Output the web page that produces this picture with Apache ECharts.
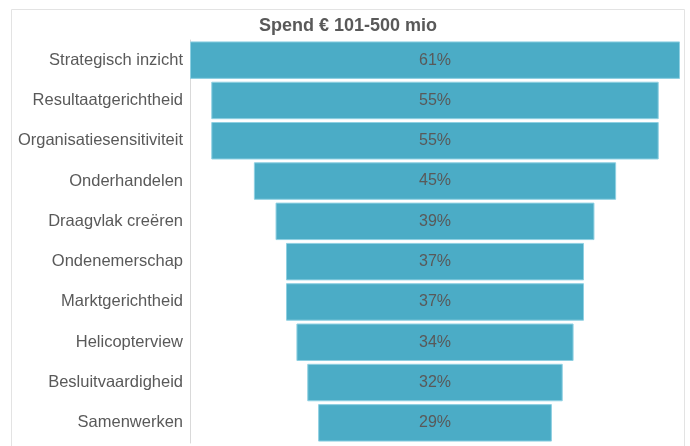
<!DOCTYPE html>
<html><head><meta charset="utf-8">
<script src="https://cdn.jsdelivr.net/npm/echarts@6/dist/echarts.min.js"></script>
<style>html,body{margin:0;padding:0;background:#fff}#c{width:690px;height:446px}</style>
</head><body><div id="c"></div>
<script>
const categories = ["Strategisch inzicht","Resultaatgerichtheid","Organisatiesensitiviteit","Onderhandelen","Draagvlak creëren","Ondenemerschap","Marktgerichtheid","Helicopterview","Besluitvaardigheid","Samenwerken"];
// bar lengths
const values = [61, 55.7, 55.7, 45.1, 39.7, 37.1, 37.1, 34.5, 31.8, 29.1];
// percentages printed on the bars
const labels = ["61%","55%","55%","45%","39%","37%","37%","34%","32%","29%"];
const title = "Spend € 101-500 mio";
const maxV = Math.max(...values);
const offsets = values.map(v => (maxV - v) / 2);
const chart = echarts.init(document.getElementById('c'), null, {renderer:'canvas'});
chart.setOption({
  animation:false,
  title:{text:title,left:254,top:12,textStyle:{fontFamily:'Liberation Sans, Arial',fontSize:18,fontWeight:'bold',color:'#595959'}},
  graphic:[{type:'rect',shape:{x:11.5,y:9.5,width:673,height:460},style:{fill:'none',stroke:'#e3e3e3',lineWidth:1},z:-1}],
  grid:{left:190,right:10,top:40,bottom:3},
  xAxis:{type:'value',min:0,max:maxV,show:false},
  yAxis:{type:'category',data:categories,inverse:true,
    axisLine:{show:true,lineStyle:{color:'#d9d9d9'}},axisTick:{show:false},
    axisLabel:{fontFamily:'Liberation Sans, Arial',fontSize:16.5,color:'#595959',margin:7}},
  series:[
    {type:'bar',stack:'s',data:offsets,itemStyle:{color:'transparent'},barCategoryGap:'7%',silent:true},
    {type:'bar',stack:'s',data:values,barCategoryGap:'7%',
      itemStyle:{color:'#4bacc6',borderColor:'#8fd0e2',borderWidth:1},
      label:{show:true,position:'inside',formatter:p=>labels[p.dataIndex],fontFamily:'Liberation Sans, Arial',fontSize:16,color:'#595959'}}
  ]
});
</script></body></html>
